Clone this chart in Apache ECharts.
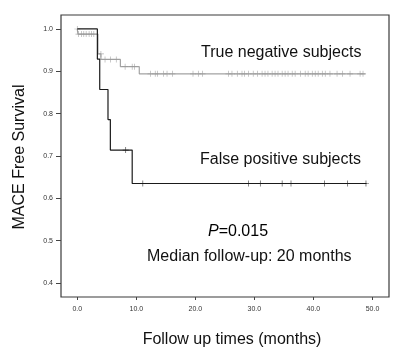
<!DOCTYPE html>
<html>
<head>
<meta charset="utf-8">
<script src="https://cdn.jsdelivr.net/npm/echarts@6/dist/echarts.min.js"></script>
<style>html,body{margin:0;padding:0;background:#fff}#c{width:400px;height:353px}</style>
</head>
<body>
<div id="c"></div>
<script>
// Kaplan-Meier step points [time (months), survival]
const trueNegSteps = [[0,1.0],[0.1,0.988],[3.5,0.941],[4.0,0.928],[7.3,0.911],[10.5,0.894],[48.8,0.894]];
const falsePosSteps = [[0,1.0],[3.4,0.929],[3.8,0.857],[5.2,0.786],[5.6,0.714],[9.3,0.635],[49.0,0.635]];
// censored observations
const trueNegCensor = [
  [0,1.0],
  [0.2,0.988],[0.7,0.988],[1.1,0.988],[1.5,0.988],[2.0,0.988],[2.4,0.988],[2.8,0.988],
  [4.0,0.941],
  [4.7,0.928],[5.6,0.928],[6.6,0.928],
  [8.1,0.911],[9.3,0.911],[9.7,0.911],
  [12.4,0.894],[13.2,0.894],[13.6,0.894],[14.6,0.894],[15.2,0.894],[16.1,0.894],
  [19.6,0.894],[20.5,0.894],[21.2,0.894],
  [25.6,0.894],[26.2,0.894],[27.1,0.894],[27.9,0.894],[28.3,0.894],[29.0,0.894],[29.8,0.894],[30.5,0.894],
  [31.3,0.894],[31.8,0.894],[32.3,0.894],[33.0,0.894],[33.5,0.894],[34.0,0.894],[34.7,0.894],[35.2,0.894],
  [35.7,0.894],[36.4,0.894],[36.9,0.894],[37.8,0.894],[38.6,0.894],[39.1,0.894],[39.8,0.894],[40.3,0.894],
  [40.8,0.894],[41.5,0.894],[42.0,0.894],[42.8,0.894],[44.0,0.894],[44.9,0.894],[46.2,0.894],[47.9,0.894],[48.4,0.894]
];
const falsePosCensor = [[8.2,0.714],[11.1,0.635],[29.0,0.635],[31.0,0.635],[34.7,0.635],[36.2,0.635],[41.9,0.635],[45.8,0.635],[48.9,0.635]];
const xTicks = [0,10,20,30,40,50];
const yTicks = [0.4,0.5,0.6,0.7,0.8,0.9,1.0];
const labels = {
  trueNeg: 'True negative subjects',
  falsePos: 'False positive subjects',
  p: 'P',
  pVal: '=0.015',
  median: 'Median follow-up: 20 months',
  xTitle: 'Follow up times (months)',
  yTitle: 'MACE Free Survival'
};

const FONT = '"Liberation Sans", Arial, sans-serif';
const plus = 'path://M4,0h1v4h4v1h-4v4h-1v-4h-4v-1h4z';

const chart = echarts.init(document.getElementById('c'), null, {renderer:'canvas'});
chart.setOption({
  animation: false,
  backgroundColor: '#fff',
  grid: {left: 61, right: 11, top: 15, bottom: 56, show: true, borderColor: '#3a3a3a', borderWidth: 1.2, containLabel: false},
  xAxis: {
    type: 'value', min: -2.76, max: 52.8,
    axisLine: {show: false, onZero: false},
    splitLine: {show: false},
    axisTick: {show: true, inside: false, length: 3, customValues: xTicks, lineStyle: {color: '#444'}},
    axisLabel: {show: true, customValues: xTicks, margin: 9, fontSize: 7, fontFamily: FONT, color: '#333',
      formatter: v => v.toFixed(1)}
  },
  yAxis: {
    type: 'value', min: 0.367, max: 1.033,
    axisLine: {show: false, onZero: false},
    splitLine: {show: false},
    axisTick: {show: true, inside: false, length: 5, customValues: yTicks, lineStyle: {color: '#444'}},
    axisLabel: {show: true, customValues: yTicks, margin: 8, fontSize: 7, fontFamily: FONT, color: '#333',
      formatter: v => v.toFixed(1)}
  },
  series: [
    {type: 'line', step: 'end', data: trueNegSteps, symbol: 'none', lineStyle: {color: '#a3a3a3', width: 1.2}, z: 2},
    {type: 'line', step: 'end', data: falsePosSteps, symbol: 'none', lineStyle: {color: '#1a1a1a', width: 1.2}, z: 3},
    {type: 'scatter', data: trueNegCensor, symbol: plus, symbolSize: 6, itemStyle: {color: '#9a9a9a'}, z: 2},
    {type: 'scatter', data: falsePosCensor, symbol: plus, symbolSize: 6, itemStyle: {color: '#1a1a1a'}, z: 4}
  ],
  graphic: [
    {type: 'text', x: 201, y: 53, style: {text: labels.trueNeg, font: '16px ' + FONT, fill: '#111', align: 'left', verticalAlign: 'middle'}},
    {type: 'text', x: 200, y: 160, style: {text: labels.falsePos, font: '16px ' + FONT, fill: '#111', align: 'left', verticalAlign: 'middle'}},
    {type: 'text', x: 208, y: 232, style: {text: '{i|' + labels.p + '}{n|' + labels.pVal + '}', align: 'left', verticalAlign: 'middle',
      rich: {i: {fontStyle: 'italic', fontSize: 16, fontFamily: FONT, color: '#111'}, n: {fontSize: 16, fontFamily: FONT, color: '#111'}}}},
    {type: 'text', x: 147, y: 257, style: {text: labels.median, font: '16px ' + FONT, fill: '#111', align: 'left', verticalAlign: 'middle'}},
    {type: 'text', x: 232, y: 340, style: {text: labels.xTitle, font: '16px ' + FONT, fill: '#111', align: 'center', verticalAlign: 'middle'}},
    {type: 'text', x: 20, y: 157, rotation: Math.PI / 2, style: {text: labels.yTitle, font: '16px ' + FONT, fill: '#111', align: 'center', verticalAlign: 'middle'}}
  ]
});
</script>
</body>
</html>
